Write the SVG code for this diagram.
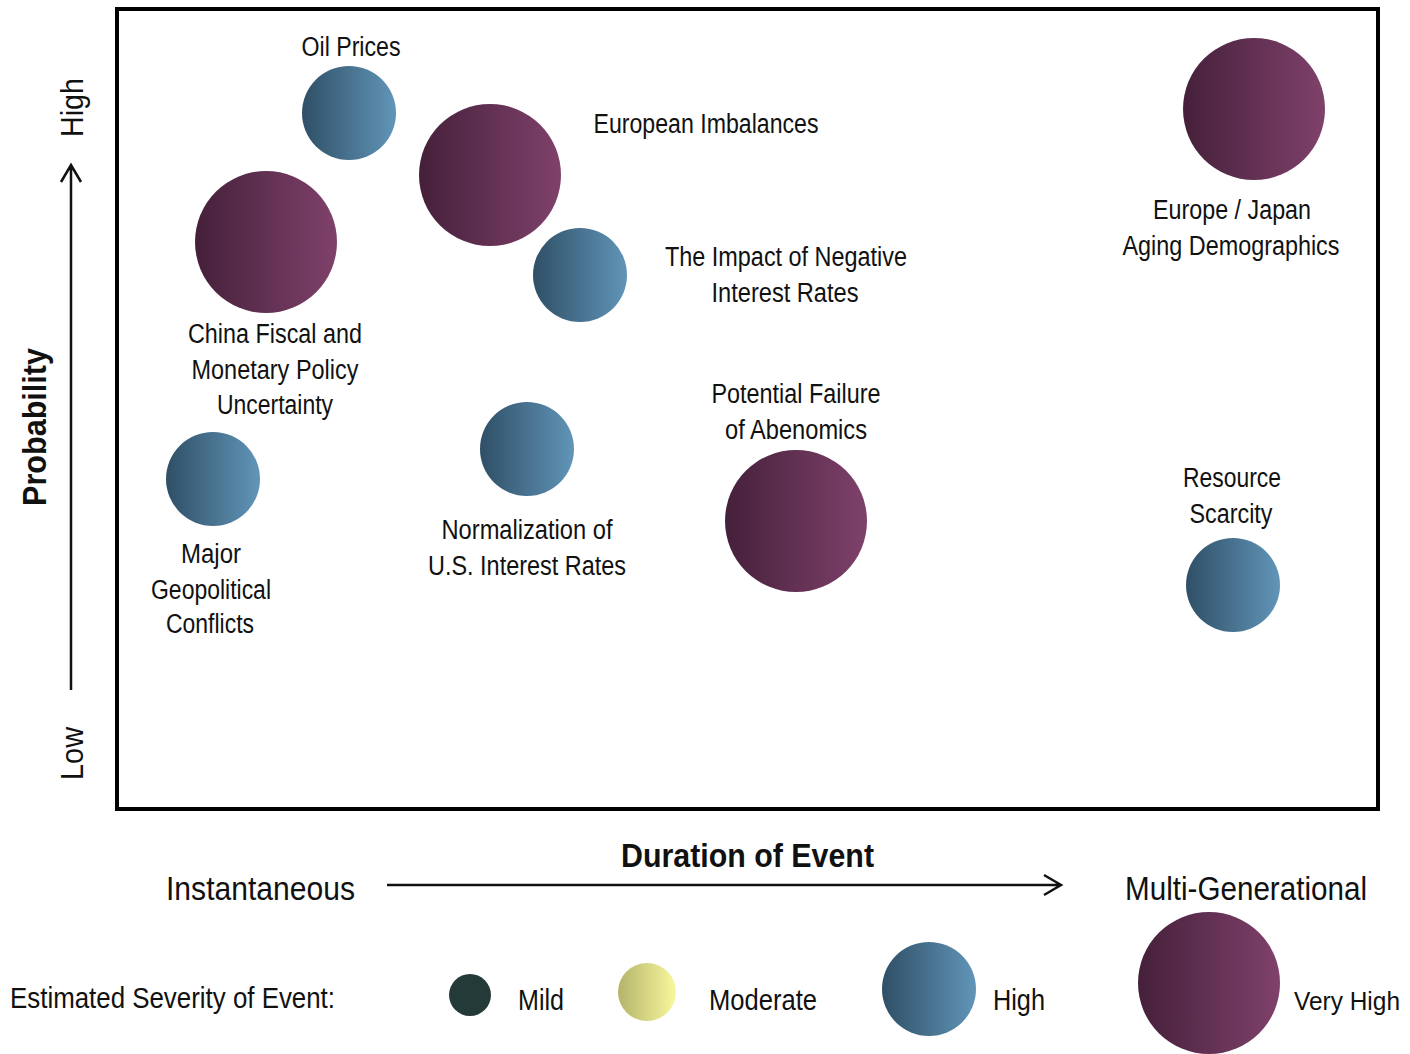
<svg xmlns="http://www.w3.org/2000/svg" width="1410" height="1054" viewBox="0 0 1410 1054">
<style>
text{font-family:"Liberation Sans",Arial,sans-serif;fill:#111;}
.l{font-size:27px;text-anchor:middle;}
.ax{font-size:33px;}
.b{font-weight:bold;}
.lg{font-size:29px;}
.hi{fill:url(#gh);}
.vh{fill:url(#gv);}
.ln{stroke:#111;stroke-width:2.5;fill:none;}
</style>
<defs>
<linearGradient id="gh" x1="0" y1="0" x2="1" y2="0"><stop offset="0" stop-color="#2f4f66"/><stop offset="1" stop-color="#6195b8"/></linearGradient>
<linearGradient id="gv" x1="0" y1="0" x2="1" y2="0"><stop offset="0" stop-color="#45203a"/><stop offset="1" stop-color="#7f416b"/></linearGradient>
<linearGradient id="gm" x1="0" y1="0" x2="1" y2="0"><stop offset="0" stop-color="#b4b46a"/><stop offset="1" stop-color="#f8f89e"/></linearGradient>
</defs>
<rect x="117" y="9" width="1261" height="800" fill="none" stroke="#000" stroke-width="4"/>
<g id="oil"><circle class="hi" cx="349" cy="113" r="47"/><text class="l" x="351" y="56" textLength="99" lengthAdjust="spacingAndGlyphs">Oil Prices</text></g>
<g id="european"><circle class="vh" cx="490" cy="175" r="71"/><text class="l" x="706" y="133" textLength="225" lengthAdjust="spacingAndGlyphs">European  Imbalances</text></g>
<g id="aging"><circle class="vh" cx="1254" cy="109" r="71"/><text class="l" x="1232" y="219" textLength="158" lengthAdjust="spacingAndGlyphs">Europe / Japan</text><text class="l" x="1231" y="255" textLength="217" lengthAdjust="spacingAndGlyphs">Aging Demographics</text></g>
<g id="china"><circle class="vh" cx="266" cy="242" r="71"/><text class="l" x="275" y="343" textLength="174" lengthAdjust="spacingAndGlyphs">China Fiscal and</text><text class="l" x="275" y="379" textLength="167" lengthAdjust="spacingAndGlyphs">Monetary Policy</text><text class="l" x="275" y="414" textLength="116" lengthAdjust="spacingAndGlyphs">Uncertainty</text></g>
<g id="negative"><circle class="hi" cx="580" cy="275" r="47"/><text class="l" x="786" y="266" textLength="242" lengthAdjust="spacingAndGlyphs">The Impact  of Negative</text><text class="l" x="785" y="302" textLength="147" lengthAdjust="spacingAndGlyphs">Interest  Rates</text></g>
<g id="geopolitical"><circle class="hi" cx="213" cy="479" r="47"/><text class="l" x="211" y="563" textLength="60" lengthAdjust="spacingAndGlyphs">Major</text><text class="l" x="211" y="599" textLength="120" lengthAdjust="spacingAndGlyphs">Geopolitical</text><text class="l" x="210" y="633" textLength="88" lengthAdjust="spacingAndGlyphs">Conflicts</text></g>
<g id="normalization"><circle class="hi" cx="527" cy="449" r="47"/><text class="l" x="527" y="539" textLength="171" lengthAdjust="spacingAndGlyphs">Normalization  of</text><text class="l" x="527" y="575" textLength="198" lengthAdjust="spacingAndGlyphs">U.S. Interest  Rates</text></g>
<g id="abenomics"><circle class="vh" cx="796" cy="521" r="71"/><text class="l" x="796" y="403" textLength="169" lengthAdjust="spacingAndGlyphs">Potential Failure</text><text class="l" x="796" y="439" textLength="142" lengthAdjust="spacingAndGlyphs">of Abenomics</text></g>
<g id="resource"><circle class="hi" cx="1233" cy="585" r="47"/><text class="l" x="1232" y="487" textLength="98" lengthAdjust="spacingAndGlyphs">Resource</text><text class="l" x="1231" y="523" textLength="83" lengthAdjust="spacingAndGlyphs">Scarcity</text></g>
<g id="yaxis">
<text class="b" font-size="33" transform="translate(46,506) rotate(-90)" textLength="158" lengthAdjust="spacingAndGlyphs">Probability</text>
<text font-size="31" transform="translate(83,137) rotate(-90)" textLength="59" lengthAdjust="spacingAndGlyphs">High</text>
<text font-size="31" transform="translate(83,780) rotate(-90)" textLength="53" lengthAdjust="spacingAndGlyphs">Low</text>
</g>
<g id="xaxis">
<text class="ax b" x="621" y="867" font-size="35" textLength="253" lengthAdjust="spacingAndGlyphs">Duration of Event</text>
<text class="ax" x="166" y="900" textLength="189" lengthAdjust="spacingAndGlyphs">Instantaneous</text>
<text class="ax" x="1125" y="900" textLength="242" lengthAdjust="spacingAndGlyphs">Multi-Generational</text>
</g>
<g id="connectors">
<path class="ln" d="M71 690 V165 M61 182 L71 165 L81 182"/>
<path class="ln" d="M387 885 H1060 M1044 875 L1061 885 L1044 895"/>
</g>
<g id="legend">
<text class="lg" x="10" y="1008" textLength="325" lengthAdjust="spacingAndGlyphs">Estimated  Severity  of Event:</text>
<circle cx="470" cy="995" r="21" fill="#243a38"/>
<text class="lg" x="518" y="1010" textLength="46" lengthAdjust="spacingAndGlyphs">Mild</text>
<circle cx="647" cy="992" r="29" fill="url(#gm)"/>
<text class="lg" x="709" y="1010" textLength="108" lengthAdjust="spacingAndGlyphs">Moderate</text>
<circle class="hi" cx="929" cy="989" r="47"/>
<text class="lg" x="993" y="1010" textLength="52" lengthAdjust="spacingAndGlyphs">High</text>
<circle class="vh" cx="1209" cy="983" r="71"/>
<text x="1294" y="1010" font-size="25" textLength="106" lengthAdjust="spacingAndGlyphs">Very High</text>
</g>
</svg>
